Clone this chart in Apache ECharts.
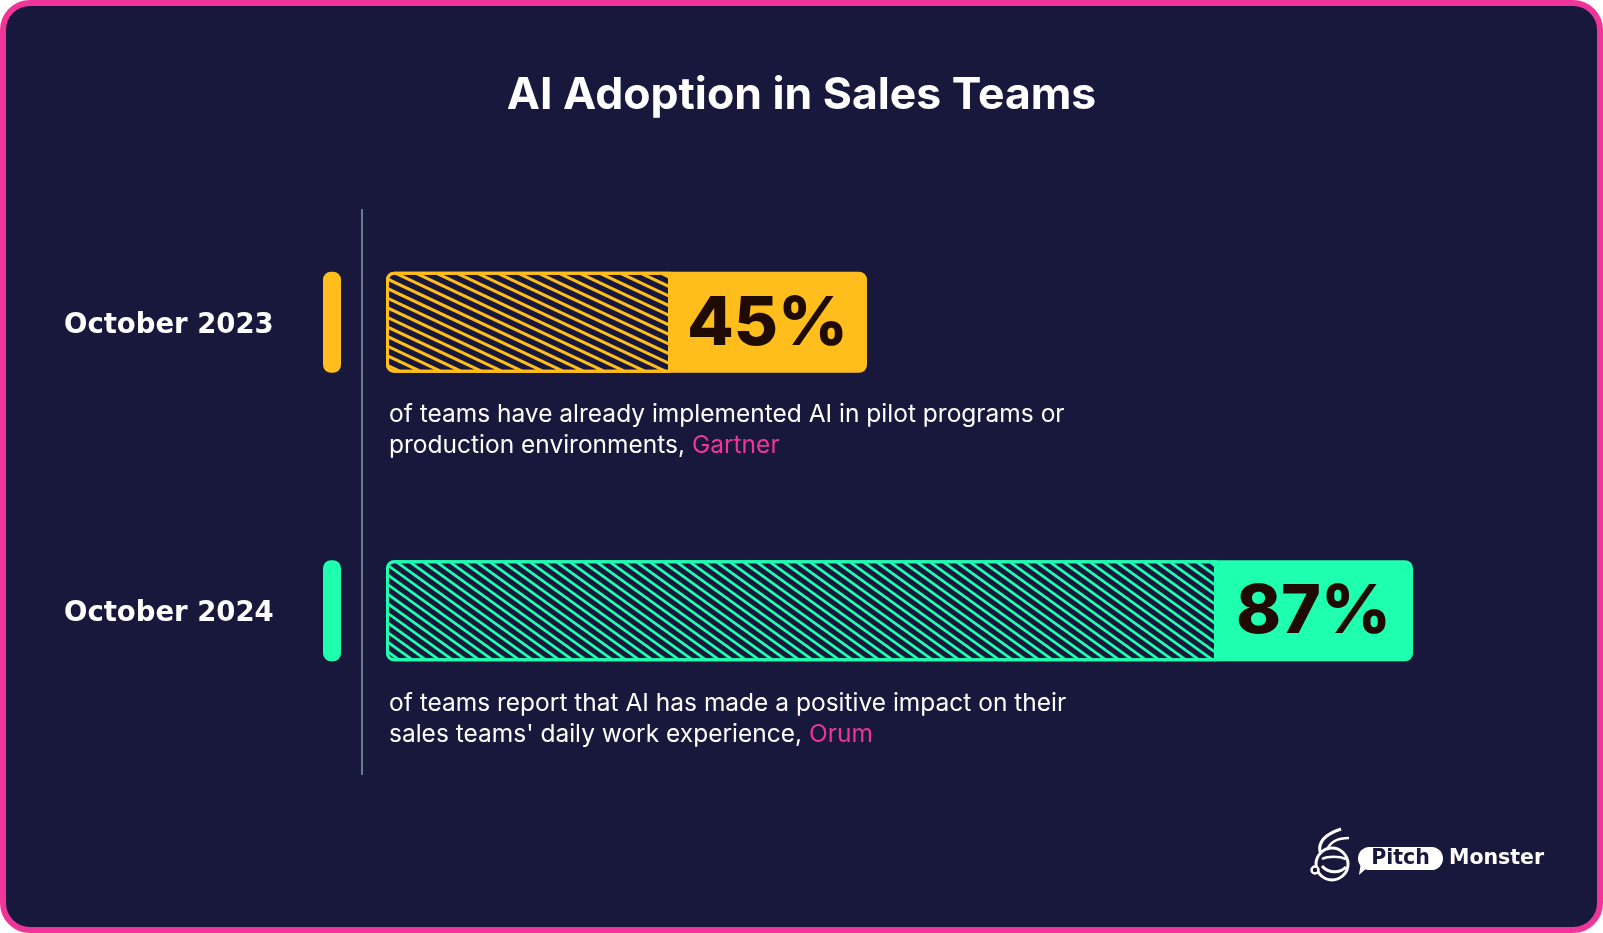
<!DOCTYPE html>
<html>
<head>
<meta charset="utf-8">
<script src="https://cdn.jsdelivr.net/npm/echarts@6/dist/echarts.min.js"></script>
<style>
  html, body { margin: 0; padding: 0; background: #ffffff; }
  #chart { width: 1603px; height: 933px; }
</style>
</head>
<body>
<div id="chart"></div>
<script>
// 数据
const periods = ['October 2023', 'October 2024'];
const adoption = [45, 87];
const descriptions = [
    'of teams have already implemented AI in pilot programs or\nproduction environments, ',
    "of teams report that AI has made a positive impact on their\nsales teams' daily work experience, "
];
const sources = ['Gartner', 'Orum'];

// 样式
const barColors = ['#FFBE1B', '#1FFFB0'];
const stripeSlopes = [0.47, 0.72];
const NAVY = '#18183C';
const PINK = '#F0359A';
const AXIS_MIN = 8;
const BAR_H = 101;
const BOX_W = 199;

// 多边形裁剪到矩形
function clipToRect(pts, rx0, ry0, rx1, ry1) {
    const planes = [[0, rx0, 1], [0, rx1, -1], [1, ry0, 1], [1, ry1, -1]];
    let out = pts;
    planes.forEach(([ax, v, s]) => {
        const input = out;
        out = [];
        for (let k = 0; k < input.length; k++) {
            const a = input[k], b = input[(k + 1) % input.length];
            const ina = (a[ax] - v) * s >= 0, inb = (b[ax] - v) * s >= 0;
            if (ina) out.push(a);
            if (ina !== inb) {
                const t = (v - a[ax]) / (b[ax] - a[ax]);
                out.push([a[0] + (b[0] - a[0]) * t, a[1] + (b[1] - a[1]) * t]);
            }
        }
    });
    return out;
}

// 斜纹
function makeStripes(x0, y0, x1, y1, slope) {
    const period = 9.6, thick = 6.2;
    const dy = (x1 - x0) * slope;
    let list = [];
    for (let c = -dy - thick; c < y1 - y0; c += period) {
        const pts = clipToRect([
            [x0, y0 + c], [x1, y0 + c + dy], [x1, y0 + c + thick + dy], [x0, y0 + c + thick]
        ], x0, y0, x1, y1);
        if (pts.length >= 3) list.push(pts);
    }
    return list;
}

function renderBar(params, api) {
    const i = params.dataIndex;
    const start = api.coord([AXIS_MIN, api.value(1)]);
    const end = api.coord([api.value(0), api.value(1)]);
    const x0 = start[0], x1 = end[0], yc = end[1];
    const top = yc - BAR_H / 2, bottom = yc + BAR_H / 2;
    const hatchEnd = x1 - BOX_W;
    const color = barColors[i];
    let children = [];
    // 左侧小标记
    children.push({
        type: 'rect',
        shape: { x: x0 - 63, y: top, width: 18, height: BAR_H, r: 8 },
        style: { fill: color }
    });
    children.push({
        type: 'rect',
        shape: { x: x0, y: top, width: x1 - x0, height: BAR_H, r: 8 },
        style: { fill: color }
    });
    makeStripes(x0 + 3, top + 3, hatchEnd, bottom - 3, stripeSlopes[i]).forEach(pts => {
        children.push({ type: 'polygon', shape: { points: pts }, style: { fill: NAVY } });
    });
    children.push({
        type: 'rect',
        shape: { x: x0 + 1.5, y: top + 1.5, width: hatchEnd - x0, height: BAR_H - 3, r: [7, 0, 0, 7] },
        style: { fill: 'none', stroke: color, lineWidth: 3 }
    });
    children.push({
        type: 'text',
        style: {
            text: api.value(0) + '%',
            x: (hatchEnd + x1) / 2,
            y: yc + 2,
            align: 'center',
            verticalAlign: 'middle',
            fontFamily: 'Inter',
            fontWeight: 800,
            fontSize: 68,
            fill: '#1F0A04'
        }
    });
    children.push({
        type: 'text',
        style: {
            text: descriptions[i] + '{src|' + sources[i] + '}',
            x: x0 + 3,
            y: bottom + 26.5,
            align: 'left',
            verticalAlign: 'top',
            fontFamily: 'Inter',
            fontSize: 24.5,
            lineHeight: 31,
            fill: '#FFFFFF',
            rich: {
                src: { fill: PINK, fontFamily: 'Inter', fontSize: 24.5, lineHeight: 31 }
            }
        }
    });
    return { type: 'group', children: children };
}

const myChart = echarts.init(document.getElementById('chart'));

myChart.setOption({
    backgroundColor: '#ffffff',
    animation: false,
    title: {
        text: 'AI Adoption in Sales Teams',
        left: 'center',
        top: 68,
        textStyle: {
            color: '#FFFFFF',
            fontFamily: 'Inter',
            fontWeight: 700,
            fontSize: 44.5
        }
    },
    grid: { left: 386, right: 21, top: 178, bottom: 178 },
    xAxis: { type: 'value', min: AXIS_MIN, max: 100, show: false },
    yAxis: {
        type: 'category',
        data: periods,
        inverse: true,
        axisLine: { show: false },
        axisTick: { show: false },
        splitLine: { show: false },
        axisLabel: {
            align: 'left',
            verticalAlign: 'top',
            lineHeight: 7,
            margin: 322,
            color: '#FFFFFF',
            fontFamily: 'DejaVu Sans',
            fontWeight: 700,
            fontSize: 27.5
        }
    },
    graphic: [
        {
            type: 'rect', z: -10,
            shape: { x: 3, y: 3, width: 1597, height: 927, r: 27 },
            style: { fill: NAVY, stroke: PINK, lineWidth: 6 }
        },
        {
            type: 'line', z: -5,
            shape: { x1: 362, y1: 209, x2: 362, y2: 775 },
            style: { stroke: '#6B7B8E', lineWidth: 2 }
        },
        // logo
        {
            type: 'group', z: 10,
            children: [
                { type: 'circle', shape: { cx: 1332, cy: 864, r: 16 }, style: { fill: 'none', stroke: '#fff', lineWidth: 3 } },
                { type: 'bezierCurve', shape: { x1: 1320, y1: 852, cpx1: 1318, cpy1: 842, cpx2: 1326, cpy2: 834, x2: 1341, y2: 829 }, style: { fill: 'none', stroke: '#fff', lineWidth: 3 } },
                { type: 'bezierCurve', shape: { x1: 1327, y1: 850, cpx1: 1330, cpy1: 842, cpx2: 1338, cpy2: 838, x2: 1349, y2: 838 }, style: { fill: 'none', stroke: '#fff', lineWidth: 2.5 } },
                { type: 'bezierCurve', shape: { x1: 1322, y1: 859, cpx1: 1328, cpy1: 856, cpx2: 1339, cpy2: 856, x2: 1346, y2: 859 }, style: { fill: 'none', stroke: '#fff', lineWidth: 2.5 } },
                { type: 'bezierCurve', shape: { x1: 1322, y1: 866, cpx1: 1328, cpy1: 873, cpx2: 1339, cpy2: 874, x2: 1346, y2: 867 }, style: { fill: 'none', stroke: '#fff', lineWidth: 3 } },
                { type: 'circle', shape: { cx: 1315, cy: 870, r: 3.5 }, style: { fill: NAVY, stroke: '#fff', lineWidth: 2.5 } },
                { type: 'rect', shape: { x: 1358, y: 847, width: 85, height: 23, r: 11.5 }, style: { fill: '#fff' } },
                { type: 'polygon', shape: { points: [[1361, 862], [1369, 866], [1359, 875]] }, style: { fill: '#fff' } },
                {
                    type: 'text',
                    style: {
                        text: 'Pitch', x: 1400.5, y: 859, align: 'center', verticalAlign: 'middle',
                        fontFamily: 'DejaVu Sans', fontWeight: 700, fontSize: 20.5, fill: NAVY
                    }
                },
                {
                    type: 'text',
                    style: {
                        text: 'Monster', x: 1449, y: 859, align: 'left', verticalAlign: 'middle',
                        fontFamily: 'DejaVu Sans', fontWeight: 700, fontSize: 20.5, fill: '#fff'
                    }
                }
            ]
        }
    ],
    series: [
        {
            type: 'custom',
            renderItem: renderBar,
            encode: { x: 0, y: 1 },
            data: adoption.map((v, i) => [v, i])
        }
    ]
});

window.onresize = () => {
    myChart.resize();
};
</script>
</body>
</html>
